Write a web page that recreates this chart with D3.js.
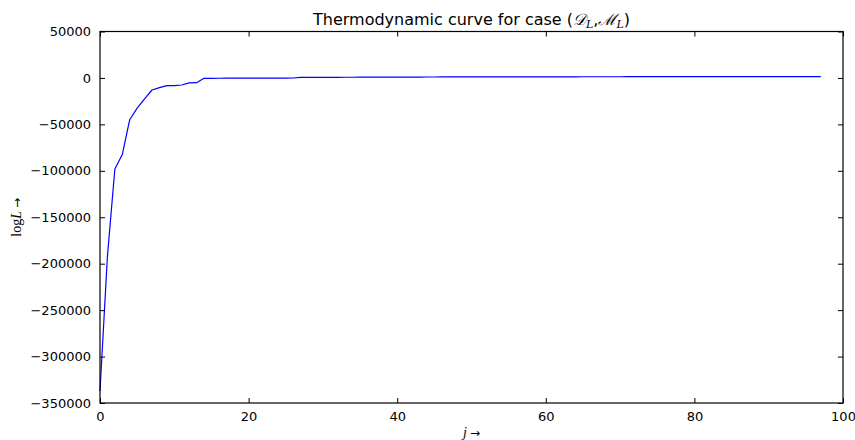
<!DOCTYPE html>
<html>
<head>
<meta charset="utf-8">
<script src="https://cdn.jsdelivr.net/npm/d3@7"></script>
<style>
  html, body { margin: 0; padding: 0; background: #fff; }
  svg { display: block; font-family: "DejaVu Sans", sans-serif; }
  text { fill: #000; }
</style>
</head>
<body>
<svg id="chart" width="855" height="440"></svg>
<script>
// Iteration index j and the log-likelihood trace log L
const iterations = d3.range(0, 98);
const logL = [
  -337000, -192000, -98000, -82500, -45000, -32500, -22500, -13000, -10500, -8300,
  -8300, -7600, -5400, -5100, -400, -400, -350, -300, -250, -200,
  -180, -160, -150, -130, -120, -100, -80, 500, 600, 650,
  650, 700, 600, 720, 760, 800, 820, 850, 870, 900,
  920, 940, 960, 980, 1000, 1020, 1040, 1050, 1060, 1080,
  1100, 1110, 1120, 1140, 1150, 1160, 1170, 1180, 1190, 1200,
  1210, 1220, 1230, 1240, 1250, 1260, 1270, 1280, 1290, 1300,
  1300, 1310, 1320, 1330, 1340, 1340, 1350, 1360, 1370, 1370,
  1380, 1390, 1390, 1400, 1400, 1410, 1410, 1420, 1420, 1430,
  1430, 1440, 1440, 1450, 1450, 1460, 1460, 1470
];
const xTicks = [0, 20, 40, 60, 80, 100];
const yTicks = [50000, 0, -50000, -100000, -150000, -200000, -250000, -300000, -350000];

const svg = d3.select("#chart");
const margin = { left: 100, right: 12, top: 31.5, bottom: 37 };
const W = 855, H = 440;

const x = d3.scaleLinear().domain([0, 100]).range([margin.left, W - margin.right]);
const y = d3.scaleLinear().domain([-350000, 50000]).range([H - margin.bottom, margin.top]);

const tickLen = 5;

// Line
const line = d3.line().x((d, i) => x(iterations[i])).y(d => y(d));
svg.append("path")
  .datum(logL)
  .attr("fill", "none")
  .attr("stroke", "#0000ff")
  .attr("stroke-width", 1.2)
  .attr("stroke-linejoin", "round")
  .attr("d", line);

// Axes: ticks point inward on all four sides
const fmt = d => (d < 0 ? "\u2212" + Math.abs(d) : String(d));
const axB = svg.append("g").attr("transform", `translate(0,${y.range()[0]})`)
  .call(d3.axisBottom(x).tickValues(xTicks).tickSizeInner(-tickLen).tickSizeOuter(0).tickPadding(9).tickFormat(d => d));
const axT = svg.append("g").attr("transform", `translate(0,${y.range()[1]})`)
  .call(d3.axisTop(x).tickValues(xTicks).tickSizeInner(-tickLen).tickSizeOuter(0).tickFormat(""));
const axL = svg.append("g").attr("transform", `translate(${x.range()[0]},0)`)
  .call(d3.axisLeft(y).tickValues(yTicks).tickSizeInner(-tickLen).tickSizeOuter(0).tickPadding(9).tickFormat(fmt));
const axR = svg.append("g").attr("transform", `translate(${x.range()[1]},0)`)
  .call(d3.axisRight(y).tickValues(yTicks).tickSizeInner(-tickLen).tickSizeOuter(0).tickFormat(""));

[axB, axT, axL, axR].forEach(g => {
  g.attr("font-family", null).attr("font-size", null);
  g.select(".domain").remove();
  g.selectAll(".tick line").attr("stroke", "#000").attr("stroke-width", 1);
  g.selectAll("text").style("font-size", "13px").style("font-family", "'DejaVu Sans', sans-serif").attr("fill", "#000");
});
axB.selectAll("text").attr("dy", "0.71em");

// Frame
svg.append("rect")
  .attr("x", x.range()[0]).attr("y", y.range()[1])
  .attr("width", x.range()[1] - x.range()[0])
  .attr("height", y.range()[0] - y.range()[1])
  .attr("fill", "none").attr("stroke", "#000").attr("stroke-width", 1.2);

// Title
const mathFont = "'DejaVu Serif', serif";
const title = svg.append("text")
  .attr("x", (x.range()[0] + x.range()[1]) / 2)
  .attr("y", 25)
  .attr("text-anchor", "middle")
  .style("font-size", "16px")
  .style("font-family", "'DejaVu Sans', sans-serif");
title.append("tspan").text("Thermodynamic curve for case (");
title.append("tspan").style("font-family", mathFont).style("font-style", "italic").text("\uD835\uDC9F");
title.append("tspan").style("font-family", mathFont).style("font-style", "italic").style("font-size", "11px").attr("dy", 3).text("L");
title.append("tspan").attr("dy", -3).text(",");
title.append("tspan").style("font-family", mathFont).style("font-style", "italic").text("\u2133");
title.append("tspan").style("font-family", mathFont).style("font-style", "italic").style("font-size", "11px").attr("dy", 3).text("L");
title.append("tspan").attr("dy", -3).text(")");

// Axis labels
const labelFont = "'Liberation Serif', serif";
const arrowFont = "'DejaVu Sans', sans-serif";
const xl = svg.append("text")
  .attr("x", (x.range()[0] + x.range()[1]) / 2)
  .attr("y", 437)
  .attr("text-anchor", "middle")
  .style("font-family", labelFont)
  .style("font-size", "14px");
xl.append("tspan").style("font-style", "italic").text("j");
xl.append("tspan").style("font-family", arrowFont).style("font-size", "12px").attr("dx", 3).text("\u2192");

const yl = svg.append("text")
  .attr("transform", `translate(21,${(y.range()[0] + y.range()[1]) / 2}) rotate(-90)`)
  .attr("text-anchor", "middle")
  .style("font-family", labelFont)
  .style("font-size", "14px");
yl.append("tspan").text("log");
yl.append("tspan").style("font-style", "italic").text("L");
yl.append("tspan").style("font-family", arrowFont).style("font-size", "12px").attr("dx", 3).text("\u2192");
</script>
</body>
</html>
